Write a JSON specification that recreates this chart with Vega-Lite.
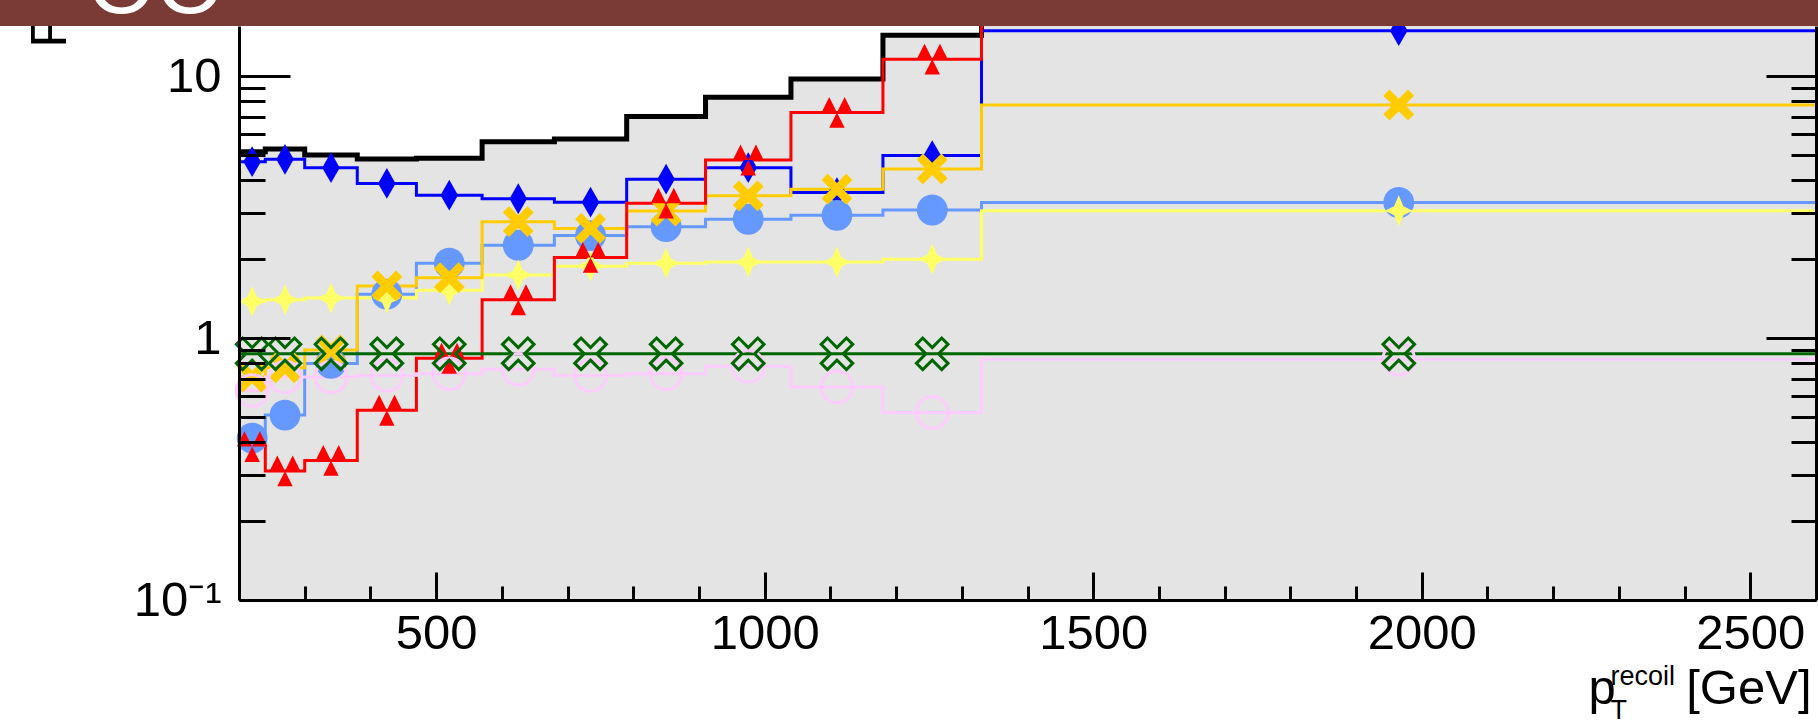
{
  "$schema": "https://vega.github.io/schema/vega-lite/v6.json",
  "width": 1577,
  "height": 574,
  "autosize": {"type": "none"},
  "padding": {"left": 239, "top": 26, "right": 2, "bottom": 121},
  "background": "#ffffff",
  "config": {
    "view": {"stroke": null},
    "font": "Liberation Sans",
    "axis": {
      "labelFont": "Liberation Sans",
      "titleFont": "Liberation Sans",
      "grid": false,
      "tickColor": "#000000",
      "domainColor": "#000000",
      "labelColor": "#000000",
      "titleColor": "#000000",
      "labelOverlap": false,
      "labelFlush": false,
      "labelBound": false,
      "titleFontWeight": "normal",
      "tickWidth": 3,
      "domainWidth": 3,
      "titlePadding": 0
    }
  },
  "datasets": {
    "hist": [
      {"s": "Total", "lo": 200, "hi": 240, "c": 220, "v": 5.14},
      {"s": "Total", "lo": 240, "hi": 300, "c": 270, "v": 5.26},
      {"s": "Total", "lo": 300, "hi": 380, "c": 340, "v": 4.99},
      {"s": "Total", "lo": 380, "hi": 470, "c": 425, "v": 4.82},
      {"s": "Total", "lo": 470, "hi": 570, "c": 520, "v": 4.85},
      {"s": "Total", "lo": 570, "hi": 680, "c": 625, "v": 5.61},
      {"s": "Total", "lo": 680, "hi": 790, "c": 735, "v": 5.75},
      {"s": "Total", "lo": 790, "hi": 910, "c": 850, "v": 7.0},
      {"s": "Total", "lo": 910, "hi": 1040, "c": 975, "v": 8.3},
      {"s": "Total", "lo": 1040, "hi": 1180, "c": 1110, "v": 9.75},
      {"s": "Total", "lo": 1180, "hi": 1330, "c": 1255, "v": 14.3},
      {"s": "Total", "lo": 1330, "hi": 2600, "c": 1965, "v": 26.5},

      {"s": "A", "lo": 200, "hi": 240, "c": 220, "v": 4.71},
      {"s": "A", "lo": 240, "hi": 300, "c": 270, "v": 4.81},
      {"s": "A", "lo": 300, "hi": 380, "c": 340, "v": 4.47},
      {"s": "A", "lo": 380, "hi": 470, "c": 425, "v": 3.89},
      {"s": "A", "lo": 470, "hi": 570, "c": 520, "v": 3.51},
      {"s": "A", "lo": 570, "hi": 680, "c": 625, "v": 3.40},
      {"s": "A", "lo": 680, "hi": 790, "c": 735, "v": 3.30},
      {"s": "A", "lo": 790, "hi": 910, "c": 850, "v": 4.04},
      {"s": "A", "lo": 910, "hi": 1040, "c": 975, "v": 4.47},
      {"s": "A", "lo": 1040, "hi": 1180, "c": 1110, "v": 3.59},
      {"s": "A", "lo": 1180, "hi": 1330, "c": 1255, "v": 4.97},
      {"s": "A", "lo": 1330, "hi": 2600, "c": 1965, "v": 14.9},

      {"s": "D", "lo": 200, "hi": 240, "c": 220, "v": 0.415},
      {"s": "D", "lo": 240, "hi": 300, "c": 270, "v": 0.508},
      {"s": "D", "lo": 300, "hi": 380, "c": 340, "v": 0.80},
      {"s": "D", "lo": 380, "hi": 470, "c": 425, "v": 1.47},
      {"s": "D", "lo": 470, "hi": 570, "c": 520, "v": 1.93},
      {"s": "D", "lo": 570, "hi": 680, "c": 625, "v": 2.26},
      {"s": "D", "lo": 680, "hi": 790, "c": 735, "v": 2.46},
      {"s": "D", "lo": 790, "hi": 910, "c": 850, "v": 2.66},
      {"s": "D", "lo": 910, "hi": 1040, "c": 975, "v": 2.84},
      {"s": "D", "lo": 1040, "hi": 1180, "c": 1110, "v": 2.94},
      {"s": "D", "lo": 1180, "hi": 1330, "c": 1255, "v": 3.08},
      {"s": "D", "lo": 1330, "hi": 2600, "c": 1965, "v": 3.29},

      {"s": "E", "lo": 200, "hi": 240, "c": 220, "v": 1.38},
      {"s": "E", "lo": 240, "hi": 300, "c": 270, "v": 1.40},
      {"s": "E", "lo": 300, "hi": 380, "c": 340, "v": 1.42},
      {"s": "E", "lo": 380, "hi": 470, "c": 425, "v": 1.42},
      {"s": "E", "lo": 470, "hi": 570, "c": 520, "v": 1.52},
      {"s": "E", "lo": 570, "hi": 680, "c": 625, "v": 1.74},
      {"s": "E", "lo": 680, "hi": 790, "c": 735, "v": 1.88},
      {"s": "E", "lo": 790, "hi": 910, "c": 850, "v": 1.93},
      {"s": "E", "lo": 910, "hi": 1040, "c": 975, "v": 1.95},
      {"s": "E", "lo": 1040, "hi": 1180, "c": 1110, "v": 1.95},
      {"s": "E", "lo": 1180, "hi": 1330, "c": 1255, "v": 2.00},
      {"s": "E", "lo": 1330, "hi": 2600, "c": 1965, "v": 3.06},

      {"s": "C", "lo": 200, "hi": 240, "c": 220, "v": 0.71},
      {"s": "C", "lo": 240, "hi": 300, "c": 270, "v": 0.77},
      {"s": "C", "lo": 300, "hi": 380, "c": 340, "v": 0.90},
      {"s": "C", "lo": 380, "hi": 470, "c": 425, "v": 1.58},
      {"s": "C", "lo": 470, "hi": 570, "c": 520, "v": 1.70},
      {"s": "C", "lo": 570, "hi": 680, "c": 625, "v": 2.78},
      {"s": "C", "lo": 680, "hi": 790, "c": 735, "v": 2.62},
      {"s": "C", "lo": 790, "hi": 910, "c": 850, "v": 3.05},
      {"s": "C", "lo": 910, "hi": 1040, "c": 975, "v": 3.49},
      {"s": "C", "lo": 1040, "hi": 1180, "c": 1110, "v": 3.70},
      {"s": "C", "lo": 1180, "hi": 1330, "c": 1255, "v": 4.42},
      {"s": "C", "lo": 1330, "hi": 2600, "c": 1965, "v": 7.75},

      {"s": "B", "lo": 200, "hi": 240, "c": 220, "v": 0.385},
      {"s": "B", "lo": 240, "hi": 300, "c": 270, "v": 0.311},
      {"s": "B", "lo": 300, "hi": 380, "c": 340, "v": 0.341},
      {"s": "B", "lo": 380, "hi": 470, "c": 425, "v": 0.53},
      {"s": "B", "lo": 470, "hi": 570, "c": 520, "v": 0.837},
      {"s": "B", "lo": 570, "hi": 680, "c": 625, "v": 1.40},
      {"s": "B", "lo": 680, "hi": 790, "c": 735, "v": 2.03},
      {"s": "B", "lo": 790, "hi": 910, "c": 850, "v": 3.27},
      {"s": "B", "lo": 910, "hi": 1040, "c": 975, "v": 4.78},
      {"s": "B", "lo": 1040, "hi": 1180, "c": 1110, "v": 7.26},
      {"s": "B", "lo": 1180, "hi": 1330, "c": 1255, "v": 11.6},
      {"s": "B", "lo": 1330, "hi": 2600, "c": 1965, "v": 20.0},

      {"s": "G", "lo": 200, "hi": 240, "c": 220, "v": 0.63},
      {"s": "G", "lo": 240, "hi": 300, "c": 270, "v": 0.71},
      {"s": "G", "lo": 300, "hi": 380, "c": 340, "v": 0.71},
      {"s": "G", "lo": 380, "hi": 470, "c": 425, "v": 0.72},
      {"s": "G", "lo": 470, "hi": 570, "c": 520, "v": 0.73},
      {"s": "G", "lo": 570, "hi": 680, "c": 625, "v": 0.76},
      {"s": "G", "lo": 680, "hi": 790, "c": 735, "v": 0.72},
      {"s": "G", "lo": 790, "hi": 910, "c": 850, "v": 0.73},
      {"s": "G", "lo": 910, "hi": 1040, "c": 975, "v": 0.78},
      {"s": "G", "lo": 1040, "hi": 1180, "c": 1110, "v": 0.65},
      {"s": "G", "lo": 1180, "hi": 1330, "c": 1255, "v": 0.52},
      {"s": "G", "lo": 1330, "hi": 2600, "c": 1965, "v": 0.83},

      {"s": "F", "lo": 200, "hi": 240, "c": 220, "v": 0.87},
      {"s": "F", "lo": 240, "hi": 300, "c": 270, "v": 0.87},
      {"s": "F", "lo": 300, "hi": 380, "c": 340, "v": 0.87},
      {"s": "F", "lo": 380, "hi": 470, "c": 425, "v": 0.87},
      {"s": "F", "lo": 470, "hi": 570, "c": 520, "v": 0.87},
      {"s": "F", "lo": 570, "hi": 680, "c": 625, "v": 0.87},
      {"s": "F", "lo": 680, "hi": 790, "c": 735, "v": 0.87},
      {"s": "F", "lo": 790, "hi": 910, "c": 850, "v": 0.87},
      {"s": "F", "lo": 910, "hi": 1040, "c": 975, "v": 0.87},
      {"s": "F", "lo": 1040, "hi": 1180, "c": 1110, "v": 0.87},
      {"s": "F", "lo": 1180, "hi": 1330, "c": 1255, "v": 0.87},
      {"s": "F", "lo": 1330, "hi": 2600, "c": 1965, "v": 0.87}
    ],
    "banner": [
      {"x0": -170, "x1": 2610, "y0": 15.52, "y1": 30, "t": "OO", "tx": -31, "ty": 17.4}
    ]
  },
  "data": {"name": "hist"},
  "resolve": {"axis": {"x": "independent", "y": "independent"}},
  "layer": [
    {
      "transform": [
        {"filter": "datum.s === 'Total'"},
        {"fold": ["lo", "hi"], "as": ["k", "x"]}
      ],
      "mark": {"type": "area", "fill": "#e4e4e4", "interpolate": "linear"},
      "encoding": {
        "x": {
          "field": "x", "type": "quantitative",
          "scale": {"domain": [200, 2600], "nice": false, "zero": false},
          "axis": {
            "orient": "bottom",
            "zindex": 1,
            "values": [500, 1000, 1500, 2000, 2500],
            "format": "d",
            "labelFontSize": 49,
            "tickSize": -28,
            "labelPadding": 37,
            "title": "[GeV]",
            "titleFontSize": 49,
            "titleX": 1572,
            "titleY": 103,
            "titleAlign": "right",
            "titleBaseline": "alphabetic"
          }
        },
        "y": {
          "field": "v", "type": "quantitative", "stack": null,
          "scale": {"type": "log", "domain": [0.1, 15.52], "nice": false},
          "axis": {
            "orient": "left",
            "zindex": 1,
            "values": [0.1, 1, 10],
            "labelExpr": "datum.value < 0.5 ? '10⁻¹' : datum.value < 5 ? '1' : '10'",
            "labelFontSize": 49,
            "tickSize": -51,
            "labelPadding": 69,
            "title": null
          }
        },
        "y2": {"datum": 0.1}
      }
    },
    {
      "transform": [
        {"filter": "datum.s === 'Total'"},
        {"fold": ["lo", "hi"], "as": ["k", "x"]}
      ],
      "mark": {"type": "line", "color": "#000000", "strokeWidth": 5, "strokeJoin": "miter"},
      "encoding": {
        "x": {
          "field": "x", "type": "quantitative",
          "axis": {
            "orient": "bottom",
            "zindex": 1,
            "values": [300, 400, 600, 700, 800, 900, 1100, 1200, 1300, 1400, 1600, 1700, 1800, 1900, 2100, 2200, 2300, 2400],
            "labels": false,
            "domain": false,
            "tickSize": -14,
            "title": "p",
            "titleFontSize": 49,
            "titleX": 1349,
            "titleY": 103,
            "titleAlign": "left",
            "titleBaseline": "alphabetic"
          }
        },
        "y": {
          "field": "v", "type": "quantitative",
          "axis": {
            "orient": "left",
            "zindex": 1,
            "values": [0.2, 0.3, 0.4, 0.5, 0.6, 0.7, 0.8, 0.9, 2, 3, 4, 5, 6, 7, 8, 9],
            "labels": false,
            "domain": false,
            "tickSize": -26,
            "title": null
          }
        }
      }
    },
    {
      "transform": [
        {"filter": "datum.s !== 'Total'"},
        {"fold": ["lo", "hi"], "as": ["k", "x"]}
      ],
      "mark": {"type": "line", "strokeWidth": 3, "strokeJoin": "miter"},
      "encoding": {
        "x": {
          "field": "x", "type": "quantitative",
          "axis": {
            "orient": "bottom",
            "zindex": 1,
            "ticks": false,
            "labels": false,
            "domain": false,
            "title": "recoil",
            "titleFontSize": 27,
            "titleX": 1371,
            "titleY": 84,
            "titleAlign": "left",
            "titleBaseline": "alphabetic"
          }
        },
        "y": {
          "field": "v", "type": "quantitative",
          "axis": {
            "orient": "right",
            "zindex": 1,
            "values": [0.1, 1, 10],
            "labels": false,
            "tickSize": -50,
            "title": null
          }
        },
        "color": {
          "field": "s", "type": "nominal", "legend": null,
          "scale": {
            "domain": ["A", "D", "E", "C", "B", "G", "F"],
            "range": ["#0000ff", "#6699ff", "#ffff66", "#ffcc00", "#ff0000", "#ffccff", "#006600"]
          }
        }
      }
    },
    {
      "transform": [
        {"filter": "datum.s === 'A' || datum.s === 'B' || datum.s === 'C' || datum.s === 'D' || datum.s === 'E'"}
      ],
      "mark": {"type": "point", "filled": true, "size": 950, "opacity": 1, "strokeWidth": 0},
      "encoding": {
        "x": {
          "field": "c", "type": "quantitative",
          "axis": {
            "orient": "bottom",
            "zindex": 1,
            "ticks": false,
            "labels": false,
            "domain": false,
            "title": "T",
            "titleFontSize": 27,
            "titleX": 1371,
            "titleY": 118,
            "titleAlign": "left",
            "titleBaseline": "alphabetic"
          }
        },
        "y": {
          "field": "v", "type": "quantitative",
          "axis": {
            "orient": "right",
            "zindex": 1,
            "values": [0.2, 0.3, 0.4, 0.5, 0.6, 0.7, 0.8, 0.9, 2, 3, 4, 5, 6, 7, 8, 9],
            "labels": false,
            "domain": false,
            "tickSize": -25,
            "title": null
          }
        },
        "color": {
          "field": "s", "type": "nominal", "legend": null,
          "scale": {
            "domain": ["A", "D", "E", "C", "B", "G", "F"],
            "range": ["#0000ff", "#6699ff", "#ffff66", "#ffcc00", "#ff0000", "#ffccff", "#006600"]
          }
        },
        "shape": {
          "field": "s", "type": "nominal", "legend": null,
          "scale": {
            "domain": ["A", "D", "E", "C", "B", "G", "F"],
            "range": [
              "M0,-1L0.57,0L0,1L-0.57,0Z",
              "circle",
              "M0,-1L0.3,-0.3L0.9,0L0.3,0.3L0,1L-0.3,0.3L-0.9,0L-0.3,-0.3Z",
              "M-1,-0.6L-0.6,-1L0,-0.4L0.6,-1L1,-0.6L0.4,0L1,0.6L0.6,1L0,0.4L-0.6,1L-1,0.6L-0.4,0Z",
              "M-1,0L-0.5,-1L0,0ZM0,0L0.5,-1L1,0ZM-0.5,1L0,0L0.5,1Z",
              "circle",
              "M-1,-0.6L-0.6,-1L0,-0.4L0.6,-1L1,-0.6L0.4,0L1,0.6L0.6,1L0,0.4L-0.6,1L-1,0.6L-0.4,0Z"
            ]
          }
        }
      }
    },
    {
      "transform": [
        {"filter": "datum.s === 'F' || datum.s === 'G'"}
      ],
      "mark": {"type": "point", "filled": false, "size": 1000, "opacity": 1, "strokeWidth": 3},
      "encoding": {
        "x": {"field": "c", "type": "quantitative", "axis": null},
        "y": {"field": "v", "type": "quantitative", "axis": null},
        "color": {
          "field": "s", "type": "nominal", "legend": null,
          "scale": {
            "domain": ["A", "D", "E", "C", "B", "G", "F"],
            "range": ["#0000ff", "#6699ff", "#ffff66", "#ffcc00", "#ff0000", "#ffccff", "#006600"]
          }
        },
        "shape": {
          "field": "s", "type": "nominal", "legend": null,
          "scale": {
            "domain": ["A", "D", "E", "C", "B", "G", "F"],
            "range": [
              "M0,-1L0.57,0L0,1L-0.57,0Z",
              "circle",
              "M0,-1L0.3,-0.3L0.9,0L0.3,0.3L0,1L-0.3,0.3L-0.9,0L-0.3,-0.3Z",
              "M-1,-0.6L-0.6,-1L0,-0.4L0.6,-1L1,-0.6L0.4,0L1,0.6L0.6,1L0,0.4L-0.6,1L-1,0.6L-0.4,0Z",
              "M-1,0L-0.5,-1L0,0ZM0,0L0.5,-1L1,0ZM-0.5,1L0,0L0.5,1Z",
              "circle",
              "M-1,-0.6L-0.6,-1L0,-0.4L0.6,-1L1,-0.6L0.4,0L1,0.6L0.6,1L0,0.4L-0.6,1L-1,0.6L-0.4,0Z"
            ]
          }
        }
      }
    },
    {
      "data": {"name": "banner"},
      "mark": {"type": "rect", "color": "#7a3a36", "clip": false},
      "encoding": {
        "x": {"field": "x0", "type": "quantitative", "axis": null},
        "x2": {"field": "x1"},
        "y": {
          "field": "y0", "type": "quantitative",
          "axis": {
            "orient": "left",
            "zindex": 0,
            "ticks": false,
            "labels": false,
            "domain": false,
            "title": "Fractional uncertainty [%]",
            "titleFontSize": 50,
            "titleAngle": 270,
            "titleX": -174,
            "titleY": 21,
            "titleAlign": "left",
            "titleBaseline": "alphabetic"
          }
        },
        "y2": {"field": "y1"}
      }
    },
    {
      "data": {"name": "banner"},
      "mark": {"type": "text", "color": "#ffffff", "fontSize": 88, "align": "left", "baseline": "alphabetic", "clip": false},
      "encoding": {
        "x": {"field": "tx", "type": "quantitative", "axis": null},
        "y": {"field": "ty", "type": "quantitative", "axis": null},
        "text": {"field": "t"}
      }
    }
  ]
}
